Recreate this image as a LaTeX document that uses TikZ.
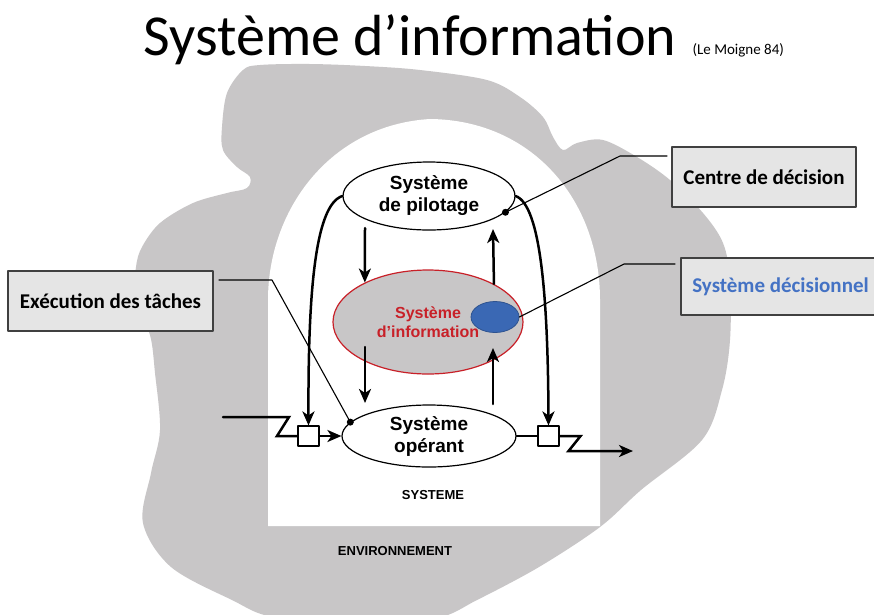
\documentclass[tikz,border=0pt]{standalone}
\usepackage{fontspec}
\setmainfont{Carlito}
\newfontfamily\arialf{Liberation Sans}
\usetikzlibrary{shapes.geometric,arrows.meta,calc}
\definecolor{envgray}{RGB}{200,198,199}
\definecolor{boxgray}{RGB}{229,229,229}
\definecolor{boxline}{RGB}{64,64,64}
\definecolor{infored}{RGB}{200,32,40}
\definecolor{decblue}{RGB}{68,114,196}
\definecolor{blobblue}{RGB}{58,104,180}
\begin{document}
\begin{tikzpicture}[x=1pt,y=-1pt,line join=round,line cap=round,>={Stealth[length=14pt,width=12pt,inset=4pt]},
	sys/.style={ellipse,draw,line width=1.2pt,inner sep=0pt,align=center,font=\arialf\bfseries\fontsize{19}{22}\selectfont},
	lbl/.style={rectangle,draw=boxline,fill=boxgray,line width=1.4pt,inner sep=0pt,font=\bfseries\fontsize{21}{25}\selectfont},
	sq/.style={rectangle,draw,fill=white,line width=1.1pt,minimum width=21pt,minimum height=20pt,inner sep=0pt},
	flow/.style={->,line width=2.5pt},
	lead/.style={line width=1.1pt}]
		\fill[white] (0,0) rectangle (874,614);
		\useasboundingbox (0,0) rectangle (874,614);
		% environnement et systeme
		\fill[envgray] plot[smooth cycle,tension=0.55] coordinates {(260,65) (310,64) (365,66) (420,70) (487,80) (520,97) (543,117) (553,137) (563,150) (577,143) (603,140) (637,157) (670,180) (703,213) (723,243) (730,280) (730,340) (722,390) (702,440) (641,490) (600,527) (539,567) (477,600) (437,618) (360,624) (273,617) (232,600) (171,567) (143,523) (151,473) (160,430) (155,373) (150,335) (135,300) (136,267) (142,247) (160,223) (193,203) (227,193) (247,188) (250,177) (237,167) (223,150) (222,127) (227,93) (243,70)};
		\fill[white] (268,526) -- (268,300) .. controls (268,210) and (330,125) .. (430,119) .. controls (532,120) and (600,200) .. (600,300) -- (600,526) -- cycle;
		\node[font=\fontsize{58}{62}\selectfont,anchor=base] (title) at (410,55) {Système d’information};
		\node[font=\fontsize{15}{18}\selectfont,anchor=base west] (source) at (689,54) {(Le Moigne 84)};
		% les trois sous-systemes
		\node[sys,fill=white,minimum width=172pt,minimum height=68pt] (pilot) at (429,196) {Système\\de pilotage};
		\node[sys,fill=envgray,draw=infored,text=infored,minimum width=190pt,minimum height=104pt,font=\arialf\bfseries\fontsize{16}{19}\selectfont] (info) at (428,322) {Système\\d’information};
		\node[ellipse,fill=blobblue,draw=blobblue!80!black,line width=0.8pt,minimum width=48pt,minimum height=31pt] (blue) at (495,317) {};
		\node[sys,fill=white,minimum width=174pt,minimum height=62pt] (oper) at (429,436) {Système\\opérant};
		\node[sq] (lsq) at (308.5,436) {};
		\node[sq] (rsq) at (548.5,436) {};
		\node[font=\arialf\bfseries\fontsize{13}{15}\selectfont] (systeme) at (433,495) {SYSTEME};
		\node[font=\arialf\bfseries\fontsize{13}{15}\selectfont] (env) at (395,551) {ENVIRONNEMENT};
		% flux
		\draw[flow] ($(pilot.center)+(-64,32)$) -- (info.148);
		\draw[flow] (info.30) -- ($(pilot.center)+(64,33)$);
		\draw[flow] ($(info.center)+(-63,25)$) -- ($(oper.center)+(-64,-33)$);
		\draw[flow] ($(oper.center)+(64,-32)$) -- ($(info.center)+(65,26)$);
		\draw[flow] (pilot.west) .. controls (314,205) and (308,300) .. (lsq.north);
		\draw[flow] (pilot.east) .. controls (541,205) and (548,300) .. (rsq.north);
		\coordinate (inpt) at (223,417);
		\coordinate (outpt) at (633,451);
		\draw[line width=2.5pt,line join=miter] (inpt) -- ++(66,0) -- ++(-12,19) -- (lsq.west);
		\draw[flow] (lsq.east) -- (oper.west);
		\draw[line width=2.5pt] (oper.east) -- (rsq.west);
		\draw[flow,line join=miter] (rsq.east) -- ++(21,0) -- ++(-12,15) -- (outpt);
		% etiquettes
		\node[lbl,minimum width=184pt,minimum height=60pt] (centre) at (764,177) {Centre de décision};
		\node[lbl,minimum width=199pt,minimum height=57pt,text=decblue] (decis) at (780.5,286.5) {Système décisionnel};
		\node[lbl,minimum width=205pt,minimum height=60pt] (exec) at (110.5,301) {Exécution des tâches};
		\coordinate (ce1) at (620,156);
		\coordinate (ce2) at (667,156);
		\coordinate (de1) at (624,264);
		\coordinate (de2) at (675,264);
		\coordinate (ex1) at (219,280);
		\coordinate (ex2) at (272,280);
		\draw[lead] (pilot.-12) -- (ce1) -- (ce2);
		\draw[lead] (blue.east) -- (de1) -- (de2);
		\draw[lead] (ex1) -- (ex2) -- (oper.170);
		\fill (pilot.-12) circle (3.5);
		\fill (oper.170) circle (3.5);
\end{tikzpicture}
\end{document}
